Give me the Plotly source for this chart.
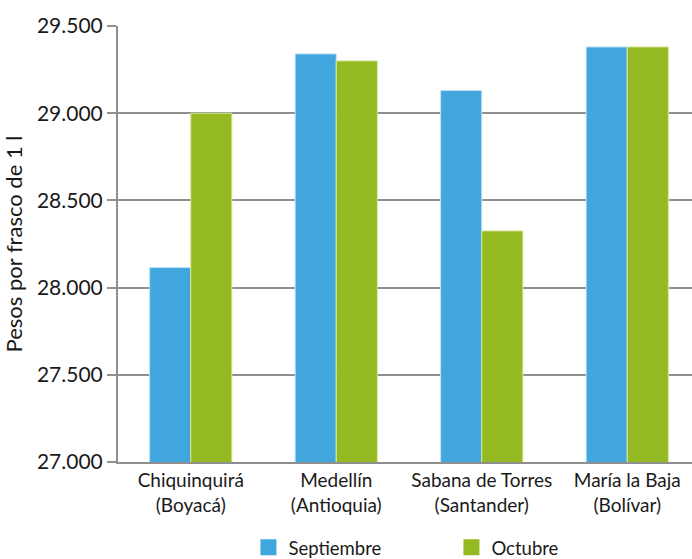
import plotly.graph_objects as go

categories = ["Chiquinquirá<br>(Boyacá)", "Medellín<br>(Antioquia)",
              "Sabana de Torres<br>(Santander)", "María la Baja<br>(Bolívar)"]
septiembre = [28115, 29340, 29130, 29380]
octubre = [29000, 29300, 28325, 29380]
tick_vals = [27000, 27500, 28000, 28500, 29000, 29500]
tick_text = ["27.000", "27.500", "28.000", "28.500", "29.000", "29.500"]

BLUE = "#41A6DD"
GREEN = "#95B921"
GRID = "#8f8f8f"
FONT = "Lato"

fig = go.Figure()
fig.add_trace(go.Bar(x=categories, y=septiembre, name="Septiembre", marker_color=BLUE,
                     marker_line=dict(color="#bfe3f5", width=1), showlegend=False))
fig.add_trace(go.Bar(x=categories, y=octubre, name="Octubre", marker_color=GREEN,
                     marker_line=dict(color="#d6ea9a", width=1), showlegend=False))
# legend markers
fig.add_trace(go.Scatter(x=[None], y=[None], mode="markers", name="Septiembre",
                         marker=dict(symbol="square", size=16, color=BLUE)))
fig.add_trace(go.Scatter(x=[None], y=[None], mode="markers", name="Octubre",
                         marker=dict(symbol="square", size=16, color=GREEN)))

fig.update_layout(
    width=692, height=559,
    margin=dict(l=118, r=0, t=26, b=97),
    paper_bgcolor="white", plot_bgcolor="white",
    barmode="group", bargap=0.435, bargroupgap=0,
    font=dict(family=FONT, color="#1a1a1a"),
    showlegend=True,
    legend=dict(orientation="h", xref="container", yref="container",
                x=0.359, xanchor="left", y=0.02, yanchor="middle",
                font=dict(size=18.5, family=FONT), entrywidth=158, entrywidthmode="pixels",
                itemwidth=30, tracegroupgap=0),
)
fig.update_xaxes(range=[-0.5, 3.445], showline=True, linecolor=GRID, linewidth=2,
                 ticks="", tickfont=dict(size=19, family=FONT), showgrid=False,
                 automargin=False)
fig.update_yaxes(range=[27000, 29500], tickvals=tick_vals, ticktext=tick_text,
                 showline=True, linecolor=GRID, linewidth=2, ticks="outside", ticklen=9,
                 tickcolor=GRID, tickwidth=2, showgrid=True, gridcolor=GRID, gridwidth=2,
                 tickfont=dict(size=21, family=FONT), automargin=True,
                 title=dict(text="Pesos por frasco de 1 l", font=dict(size=22, family=FONT),
                            standoff=9))

fig.write_html("out.html", config={"displayModeBar": False},
               post_script="document.body.style.margin='0';document.body.style.overflow='hidden';")
